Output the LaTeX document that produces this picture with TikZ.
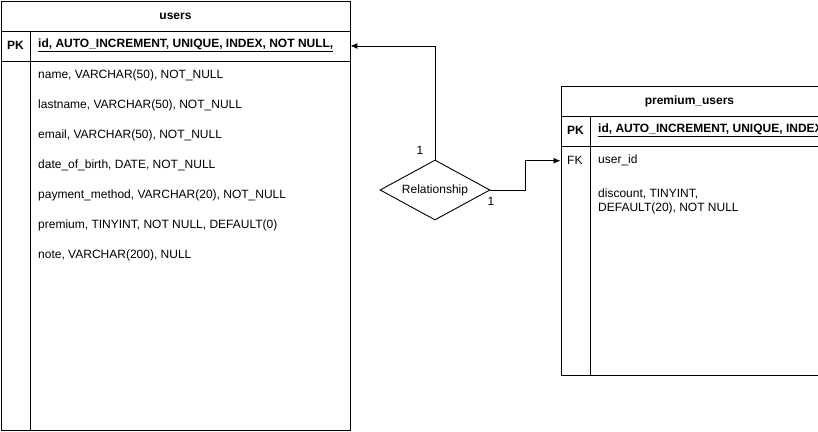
\documentclass[tikz,border=0pt]{standalone}
\usepackage{fontspec}
\setmainfont{Liberation Sans}
\usepackage{tikz}
\usetikzlibrary{arrows.meta,shapes.geometric,positioning}
\definecolor{ink}{HTML}{000000}
\tikzset{
  base/.style={draw=ink, line width=0.9pt},
  tbl/.style={base, inner sep=0pt, anchor=north west},
  row/.style={inner sep=0pt, anchor=north west},
  cell/.style={text=ink, font=\fontsize{12}{14}\selectfont, anchor=west, inner sep=0pt},
  head/.style={text=ink, font=\bfseries\fontsize{12}{14}\selectfont, inner sep=0pt},
  keycell/.style={cell, font=\bfseries\fontsize{12}{14}\selectfont},
  rel/.style={base, diamond, aspect=1.83, inner sep=0pt, minimum width=110pt, minimum height=60pt,
    text=ink, font=\fontsize{12}{14}\selectfont},
  conn/.style={base, -{Latex[length=7pt,width=6pt]}},
  card/.style={text=ink, font=\fontsize{12}{14}\selectfont, inner sep=0pt},
}

\begin{document}
\begin{tikzpicture}[x=1pt,y=-1pt]
  \useasboundingbox (0,0) rectangle (818,431);
  \clip (0,0) rectangle (818,431);

  % users
  \node[tbl, minimum width=349pt, minimum height=429pt] (users) at (0.5,0.5) {};
  \node[tbl, minimum width=349pt, minimum height=30pt] (usershead) at (0.5,0.5) {};
  \node[head] (userstitle) at (usershead) {users};
  \node[tbl, minimum width=349pt, minimum height=30pt] (userspk) at (0.5,30.5) {};
  \draw[base] ([xshift=30pt]userspk.north west) -- ([xshift=30pt]users.south west);
  \node[keycell] (userspklab) at (7,45) {PK};
  \node[keycell] (usersid) at (38,45) {\underline{id, AUTO\_INCREMENT, UNIQUE, INDEX, NOT NULL,}};
  \foreach \y/\t [count=\i] in {75/{name, VARCHAR(50), NOT\_NULL},
      105/{lastname, VARCHAR(50), NOT\_NULL},
      135/{email, VARCHAR(50), NOT\_NULL},
      165/{date\_of\_birth, DATE, NOT\_NULL},
      195/{payment\_method, VARCHAR(20), NOT\_NULL},
      225/{premium, TINYINT, NOT NULL, DEFAULT(0)},
      255/{note, VARCHAR(200), NULL}}
    \node[cell] (usersrow\i) at (38,\y) {\t};

  % premium_users
  \node[tbl, minimum width=257pt, minimum height=289pt] (prem) at (560.5,85.5) {};
  \node[tbl, minimum width=257pt, minimum height=30pt] (premhead) at (560.5,85.5) {};
  \node[head] (premtitle) at (premhead) {premium\_users};
  \node[tbl, minimum width=257pt, minimum height=30pt] (prempk) at (560.5,115.5) {};
  \draw[base] ([xshift=30pt]prempk.north west) -- ([xshift=30pt]prem.south west);
  \node[row, minimum width=257pt, minimum height=30pt] (premfk) at (560.5,145.5) {};
  \node[keycell] (prempklab) at (567,130) {PK};
  \node[keycell] (premid) at (598,130) {\underline{id, AUTO\_INCREMENT, UNIQUE, INDEX, NOT NULL,}};
  \node[cell] (premfklab) at (567,160) {FK};
  \node[cell] (premuser) at (598,160) {user\_id};
  \node[cell, align=left] (premdisc) at (598,201) {discount, TINYINT,\\DEFAULT(20), NOT NULL};

  % relationship
  \node[rel] (relship) at (435,190) {Relationship};
  \node[card] (cardusers) at (420,150) {1};
  \node[card] (cardprem) at (491,201) {1};

  \draw[conn] (relship.north) |- (userspk.east);
  \draw[conn] (relship.east) -- ++(35,0) |- (premfk.west);
\end{tikzpicture}
\end{document}
